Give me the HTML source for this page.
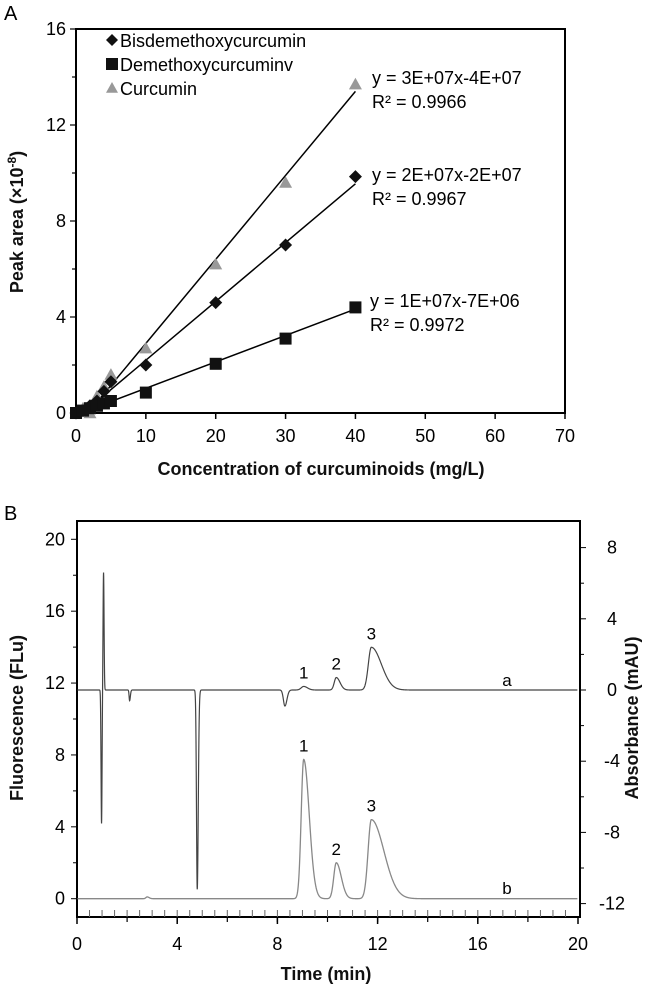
<!DOCTYPE html>
<html><head><meta charset="utf-8"><style>
html,body{margin:0;padding:0;background:#fff;}
svg{display:block;font-family:"Liberation Sans",Arial,sans-serif;}
</style></head><body>
<svg id="fig" width="650" height="986" viewBox="0 0 650 986">
<text x="4" y="20" font-size="20">A</text>
<text x="4" y="520" font-size="20">B</text>
<g id="ga"></g>
<g id="gb"></g>
</svg>
<script>
// ---------- Panel A data ----------
const concs = [0, 1, 2, 3, 4, 5, 10, 20, 30, 40];
const bisValues = [0, 0.1, 0.3, 0.5, 0.9, 1.3, 2.0, 4.6, 7.0, 9.85];
const demValues = [0, 0.1, 0.2, 0.3, 0.4, 0.5, 0.85, 2.05, 3.1, 4.4];
const curValues = [0, 0.2, 0.0, 0.7, 1.1, 1.6, 2.7, 6.2, 9.6, 13.7];
const trendSlopes = [0.245, 0.11, 0.35];
const trendIntercepts = [-0.25, -0.07, -0.6];
const xTicksA = [0, 10, 20, 30, 40, 50, 60, 70];
const yTicksA = [0, 4, 8, 12, 16];
const eqLabels = ["y = 2E+07x-2E+07", "y = 1E+07x-7E+06", "y = 3E+07x-4E+07"];
const r2Labels = ["R\u00B2 = 0.9967", "R\u00B2 = 0.9972", "R\u00B2 = 0.9966"];
const legendNames = ["Bisdemethoxycurcumin", "Demethoxycurcuminv", "Curcumin"];

// ---------- Panel B data ----------
const xTicksB = [0, 4, 8, 12, 16, 20];
const yTicksLeft = [0, 4, 8, 12, 16, 20];
const yTicksRight = [-12, -8, -4, 0, 4, 8];
const aTimes = [0.98, 1.06, 2.1, 4.8, 8.3, 9.05, 10.35, 11.75];
const aHeights = [-7.5, 6.6, -0.6, -11.2, -0.9, 0.2, 0.7, 2.4];
const aSigL = [0.02, 0.02, 0.02, 0.03, 0.06, 0.1, 0.08, 0.12];
const aSigR = [0.02, 0.02, 0.03, 0.04, 0.08, 0.15, 0.15, 0.4];
const bTimes = [2.8, 9.05, 10.35, 11.75];
const bHeights = [0.1, 7.75, 2.0, 4.4];
const bSigL = [0.05, 0.1, 0.1, 0.13];
const bSigR = [0.08, 0.22, 0.2, 0.5];
const peakLabels = ["1", "2", "3"];

const NS = "http://www.w3.org/2000/svg";
function mk(parent, tag, attrs, text) {
  const e = document.createElementNS(NS, tag);
  for (const k in attrs) e.setAttribute(k, attrs[k]);
  if (text !== undefined) e.textContent = text;
  parent.appendChild(e);
  return e;
}

// ---------- Panel A ----------
const ga = document.getElementById('ga');
const AX0 = 76, AX1 = 565, AY0 = 413, AY1 = 29;
const ax = v => AX0 + (v - 0) / 70 * (AX1 - AX0);
const ay = v => AY0 - v / 16 * (AY0 - AY1);
let el;
el = mk(ga, 'path', {d: `M${AX0},${AY1} H${AX1} V${AY0} H${AX0} Z`, fill: 'none', stroke: '#000', 'stroke-width': 2});


xTicksA.forEach(t => {
  mk(ga, 'line', {x1: ax(t), x2: ax(t), y1: AY0, y2: AY0 + 6, stroke: '#000', 'stroke-width': 1.5});
  el = mk(ga, 'text', {x: ax(t), y: AY0 + 29, 'font-size': 18, 'text-anchor': 'middle'}, String(t));
  
  
});
for (let v = 0; v <= 16; v += 2) {
  const major = v % 4 === 0;
  mk(ga, 'line', {x1: AX0 - (major ? 6 : 4), x2: AX0, y1: ay(v), y2: ay(v), stroke: '#000', 'stroke-width': 1.2});
}
yTicksA.forEach(t => {
  el = mk(ga, 'text', {x: AX0 - 10, y: ay(t) + 6, 'font-size': 18, 'text-anchor': 'end'}, String(t));
  
  
});
el = mk(ga, 'text', {x: 321, y: 475, 'font-size': 18, 'text-anchor': 'middle', 'font-weight': 'bold', fill: '#111'}, 'Concentration of curcuminoids (mg/L)');


el = mk(ga, 'text', {transform: `translate(23,222) rotate(-90)`, 'font-size': 18, 'text-anchor': 'middle', 'font-weight': 'bold', fill: '#111'});
el.innerHTML = 'Peak area (×10<tspan dy="-7" font-size="12">-8</tspan><tspan dy="7">)</tspan>';



const seriesVals = [bisValues, demValues, curValues];
const colors = ['#111', '#111', '#999'];
function marker(g, kind, cx, cy, s) {
  if (kind === 0) return mk(g, 'path', {d: `M${cx},${cy - s} L${cx + s},${cy} L${cx},${cy + s} L${cx - s},${cy} Z`, fill: colors[0]});
  if (kind === 1) return mk(g, 'rect', {x: cx - s, y: cy - s, width: 2 * s, height: 2 * s, fill: colors[1]});
  return mk(g, 'path', {d: `M${cx},${cy - s} L${cx + s},${cy + s * 0.8} L${cx - s},${cy + s * 0.8} Z`, fill: colors[2]});
}
[2, 0, 1].forEach(i => {
  const x0 = Math.max(0, -trendIntercepts[i] / trendSlopes[i]);
  el = mk(ga, 'line', {x1: ax(x0), y1: ay(trendSlopes[i] * x0 + trendIntercepts[i]), x2: ax(40), y2: ay(trendSlopes[i] * 40 + trendIntercepts[i]), stroke: '#000', 'stroke-width': 1.5});
  
  
});
[2, 0, 1].forEach(i => {
  const g = mk(ga, 'g', {});
  
  
  concs.forEach((c, j) => {
    const m = marker(g, i, ax(c), ay(seriesVals[i][j]), i === 1 ? 6 : 6.5);
    
    
  });
});
const legY = [41, 65, 89];
legendNames.forEach((n, i) => {
  const g = mk(ga, 'g', {});
  
  
  marker(g, i, 112, legY[i] - 1, 6);
  mk(g, 'text', {x: 120, y: legY[i] + 6, 'font-size': 18}, n);
});
const eqY = [181, 307, 84];
eqLabels.forEach((t, i) => {
  el = mk(ga, 'text', {x: i === 1 ? 370 : 372, y: eqY[i], 'font-size': 18}, t);
  
  
  el = mk(ga, 'text', {x: i === 1 ? 370 : 372, y: eqY[i] + 24, 'font-size': 18}, r2Labels[i]);
  
  
});

// ---------- Panel B ----------
const gb = document.getElementById('gb');
const BX0 = 77, BX1 = 580, BT = 521, BB = 917;
const bx = t => BX0 + t / 20 * (578 - BX0);
const byL = v => 898.7 - v * 17.97;
const byR = v => 690 - v * 17.8;
el = mk(gb, 'path', {d: `M${BX0},${BT} H${BX1} V${BB} H${BX0} Z`, fill: 'none', stroke: '#000', 'stroke-width': 2});


for (let t = 0.5; t < 20; t += 0.5) mk(gb, 'line', {x1: bx(t), x2: bx(t), y1: BB, y2: BB - 7, stroke: '#666', 'stroke-width': 1});
for (let t = 2; t < 20; t += 2) mk(gb, 'line', {x1: bx(t), x2: bx(t), y1: BB, y2: BB + 5, stroke: '#000', 'stroke-width': 1.2});
xTicksB.forEach(t => {
  mk(gb, 'line', {x1: bx(t), x2: bx(t), y1: BB, y2: BB + 7, stroke: '#000', 'stroke-width': 1.5});
  el = mk(gb, 'text', {x: bx(t), y: 950, 'font-size': 18, 'text-anchor': 'middle'}, String(t));
  
  
});
for (let v = 0; v <= 20; v += 2) mk(gb, 'line', {x1: BX0 - (v % 4 ? 4 : 6), x2: BX0, y1: byL(v), y2: byL(v), stroke: '#000', 'stroke-width': 1});
yTicksLeft.forEach(t => {
  el = mk(gb, 'text', {x: BX0 - 12, y: byL(t) + 6, 'font-size': 18, 'text-anchor': 'end'}, String(t));
  
  
});
for (let v = -12; v <= 8; v += 2) mk(gb, 'line', {x1: BX1, x2: BX1 + (v % 4 ? 4 : 6), y1: byR(v), y2: byR(v), stroke: '#000', 'stroke-width': 1});
yTicksRight.forEach(t => {
  el = mk(gb, 'text', {x: 612, y: byR(t) + 6, 'font-size': 18, 'text-anchor': 'middle'}, String(t));
  
  
});
el = mk(gb, 'text', {x: 326, y: 980, 'font-size': 18, 'text-anchor': 'middle', 'font-weight': 'bold', fill: '#111'}, 'Time (min)');


el = mk(gb, 'text', {transform: 'translate(23,718) rotate(-90)', 'font-size': 18, 'text-anchor': 'middle', 'font-weight': 'bold', fill: '#111'}, 'Fluorescence (FLu)');


el = mk(gb, 'text', {transform: 'translate(638,718) rotate(-90)', 'font-size': 18, 'text-anchor': 'middle', 'font-weight': 'bold', fill: '#111'}, 'Absorbance (mAU)');



function trace(times, heights, sl, sr, t) {
  let s = 0;
  for (let i = 0; i < times.length; i++) {
    const d = t - times[i];
    const sg = d < 0 ? sl[i] : sr[i];
    s += heights[i] * Math.exp(-0.5 * d * d / (sg * sg));
  }
  return s;
}
let dA = '', dB = '';
for (let t = 0.02; t <= 19.98; t += 0.005) {
  dA += (dA ? 'L' : 'M') + bx(t).toFixed(2) + ',' + byR(trace(aTimes, aHeights, aSigL, aSigR, t)).toFixed(2);
  dB += (dB ? 'L' : 'M') + bx(t).toFixed(2) + ',' + byL(trace(bTimes, bHeights, bSigL, bSigR, t)).toFixed(2);
}
el = mk(gb, 'path', {d: dB, fill: 'none', stroke: '#888', 'stroke-width': 1.3});


el = mk(gb, 'path', {d: dA, fill: 'none', stroke: '#444', 'stroke-width': 1.2});


const aLabelTimes = aTimes.slice(5);
const aLabelHeights = aHeights.slice(5);
aLabelTimes.forEach((t, i) => {
  el = mk(gb, 'text', {x: bx(t), y: byR(aLabelHeights[i]) - 8, 'font-size': 17, 'text-anchor': 'middle'}, peakLabels[i]);
  
  
});
bTimes.slice(1).forEach((t, i) => {
  el = mk(gb, 'text', {x: bx(t), y: byL(bHeights[i + 1]) - 8, 'font-size': 17, 'text-anchor': 'middle'}, peakLabels[i]);
  
  
});
el = mk(gb, 'text', {x: 507, y: 686, 'font-size': 17, 'text-anchor': 'middle'}, 'a');


el = mk(gb, 'text', {x: 507, y: 894, 'font-size': 17, 'text-anchor': 'middle'}, 'b');


</script>
</body></html>
